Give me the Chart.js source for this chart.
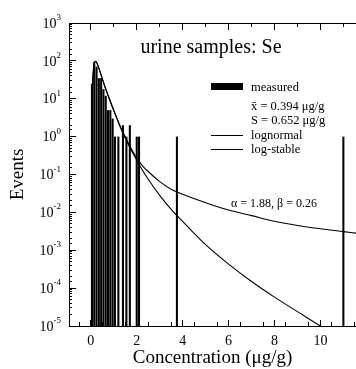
<!DOCTYPE html>
<html>
<head>
<meta charset="utf-8">
<script src="https://cdn.jsdelivr.net/npm/chart.js@4"></script>
<style>
  body { margin: 0; background: #fff; }
  canvas { display: block; }
</style>
</head>
<body>
<canvas id="grafico" width="356" height="369"></canvas>
<script>
// histogram of measured values (bin centre, events)
const binCenters = [0.05, 0.15, 0.25, 0.35, 0.45, 0.55, 0.65, 0.75, 0.85, 0.95, 1.05, 1.2, 1.4, 1.55, 1.7, 2.0, 2.1, 3.75, 11.0];
const counts     = [25,   95,   70,   35,   35,   18,   12,   5,    5,    3,    1,    1,   2,   1,    2,   1,   1,   1,    1];

// fitted curves
const curveX     = [0.05, 0.1, 0.15, 0.2, 0.25, 0.3, 0.4, 0.5, 0.6, 0.8, 1.0, 1.25, 1.5, 1.75, 2.0, 2.25, 2.5, 3.0, 3.5, 4, 5, 6, 7, 8, 9, 10, 11, 11.6];
const lognormal  = [8, 45, 82, 98, 92, 78, 52, 34, 22, 10, 4.8, 2.0, 0.9, 0.45, 0.24, 0.13, 0.075, 0.028, 0.012, 0.0058, 0.0014, 4.3e-4, 1.5e-4, 5.8e-5, 2.4e-5, 1.0e-5, 4.5e-6, 3e-6];
const logStable  = [8, 45, 82, 98, 92, 78, 52, 34, 22, 10.5, 5.0, 2.1, 1.0, 0.5, 0.27, 0.17, 0.12, 0.065, 0.041, 0.03, 0.018, 0.0115, 0.0082, 0.0058, 0.0045, 0.0037, 0.0031, 0.0028];

// axis ticks
const xMajorTicks = [0, 2, 4, 6, 8, 10];
const xMinorTicks = [1, 3, 5, 7, 9, 11];
const xAllTicks   = xMajorTicks.concat(xMinorTicks).sort((a, b) => a - b);
const yExponents  = [-5, -4, -3, -2, -1, 0, 1, 2, 3];

const serif = '"Liberation Serif", "DejaVu Serif", serif';
Chart.defaults.color = '#000';
Chart.defaults.font.family = serif;

// longer major ticks, log tick labels, title and legend
const decoracao = {
  id: 'decoracao',
  afterDraw(chart) {
    const ctx = chart.ctx;
    const x = chart.scales.x, y = chart.scales.y;
    const esq = Math.floor(x.left), topo = Math.floor(y.top), base = Math.floor(y.bottom);
    ctx.save();
    ctx.fillStyle = '#000';

    // major ticks a bit longer than the library's minor ones
    xMajorTicks.forEach(v => {
      const px = Math.floor(x.getPixelForValue(v));
      ctx.fillRect(px, base - 6, 1, 6);
      ctx.fillRect(px, topo + 1, 1, 6);
    });
    yExponents.forEach(e => {
      const py = Math.floor(y.getPixelForValue(Math.pow(10, e)));
      ctx.fillRect(esq + 1, py, 6, 1);
    });

    // y tick labels 10^n
    yExponents.forEach(e => {
      const py = y.getPixelForValue(Math.pow(10, e));
      const expText = e < 0 ? '-' + (-e) : String(e);
      ctx.font = '9px ' + serif;
      const w = ctx.measureText(expText).width;
      ctx.textBaseline = 'alphabetic';
      ctx.textAlign = 'left';
      ctx.fillText(expText, 61 - w, py - 3);
      ctx.font = '14px ' + serif;
      ctx.textAlign = 'right';
      ctx.textBaseline = 'middle';
      ctx.fillText('10', 61 - w, py + 1);
    });

    // title
    ctx.textBaseline = 'alphabetic';
    ctx.textAlign = 'center';
    ctx.font = '20px ' + serif;
    ctx.fillText('urine samples: Se', 211, 53);

    // legend
    ctx.fillRect(211, 83, 32, 7);
    ctx.fillRect(211, 135, 32, 1);
    ctx.fillRect(211, 149, 32, 1);
    ctx.textAlign = 'left';
    ctx.font = '12.5px ' + serif;
    ctx.fillText('measured', 251, 90.5);
    ctx.fillText('x\u0304 = 0.394 \u03bcg/g', 251, 109.5);
    ctx.fillText('S = 0.652 \u03bcg/g', 251, 123.5);
    ctx.fillText('lognormal', 251, 138.5);
    ctx.fillText('log-stable', 251, 153);

    // fit parameters
    ctx.font = '12px ' + serif;
    ctx.fillText('\u03b1 = 1.88, \u03b2 = 0.26', 231, 207);
    ctx.restore();
  }
};

const setXTicks = s => { s.ticks = xAllTicks.map(v => ({ value: v })); };

const grafico = new Chart(document.getElementById('grafico').getContext('2d'), {
  data: {
    datasets: [{
      type: 'bar',
      label: 'measured',
      data: binCenters.map((v, i) => ({ x: v, y: counts[i] })),
      backgroundColor: '#000',
      borderWidth: 0,
      barPercentage: 0.9,
      categoryPercentage: 1
    }, {
      type: 'line',
      label: 'lognormal',
      data: curveX.map((v, i) => ({ x: v, y: lognormal[i] })),
      borderColor: '#000',
      borderWidth: 1.1,
      pointRadius: 0,
      cubicInterpolationMode: 'monotone'
    }, {
      type: 'line',
      label: 'log-stable',
      data: curveX.map((v, i) => ({ x: v, y: logStable[i] })),
      borderColor: '#000',
      borderWidth: 1.1,
      pointRadius: 0,
      cubicInterpolationMode: 'monotone'
    }]
  },
  options: {
    responsive: false,
    animation: false,
    layout: { padding: { top: 23, right: 0, left: 0, bottom: 0 } },
    plugins: {
      legend: { display: false },
      tooltip: { enabled: false }
    },
    scales: {
      x: {
        type: 'linear',
        position: 'bottom',
        offset: false,
        min: -0.95,
        max: 11.55,
        afterBuildTicks: setXTicks,
        afterFit: s => { s.height = 43; },
        // ticks drawn inwards (negative length), no lines across the plot
        grid: { display: true, drawOnChartArea: false, drawTicks: true, tickLength: -4, tickColor: '#000', tickWidth: 1 },
        border: { display: true, color: '#000', width: 1 },
        ticks: {
          autoSkip: false,
          maxRotation: 0,
          padding: 11,
          font: { size: 14, family: serif },
          color: '#000',
          callback: v => (xMajorTicks.includes(v) ? String(v) : '')
        },
        title: {
          display: true,
          text: 'Concentration (\u03bcg/g)',
          font: { size: 19, family: serif },
          color: '#000',
          padding: { top: 0, bottom: 0 }
        }
      },
      xTopo: {
        type: 'linear',
        position: 'top',
        offset: false,
        min: -0.95,
        max: 11.55,
        afterBuildTicks: setXTicks,
        afterFit: s => { s.height = 0; },
        grid: { display: true, drawOnChartArea: false, drawTicks: true, tickLength: -4, tickColor: '#000', tickWidth: 1 },
        border: { display: true, color: '#000', width: 1 },
        ticks: { display: false }
      },
      y: {
        type: 'logarithmic',
        min: 1e-5,
        max: 1e3,
        afterFit: s => { s.width = 69; },
        grid: { display: true, drawOnChartArea: false, drawTicks: true, tickLength: -3, tickColor: '#000', tickWidth: 1 },
        border: { display: true, color: '#000', width: 1 },
        ticks: { display: false },
        title: {
          display: true,
          text: 'Events',
          font: { size: 19, family: serif },
          color: '#000',
          padding: { top: 7, bottom: 0 }
        }
      }
    }
  },
  plugins: [decoracao]
});
</script>
</body>
</html>
